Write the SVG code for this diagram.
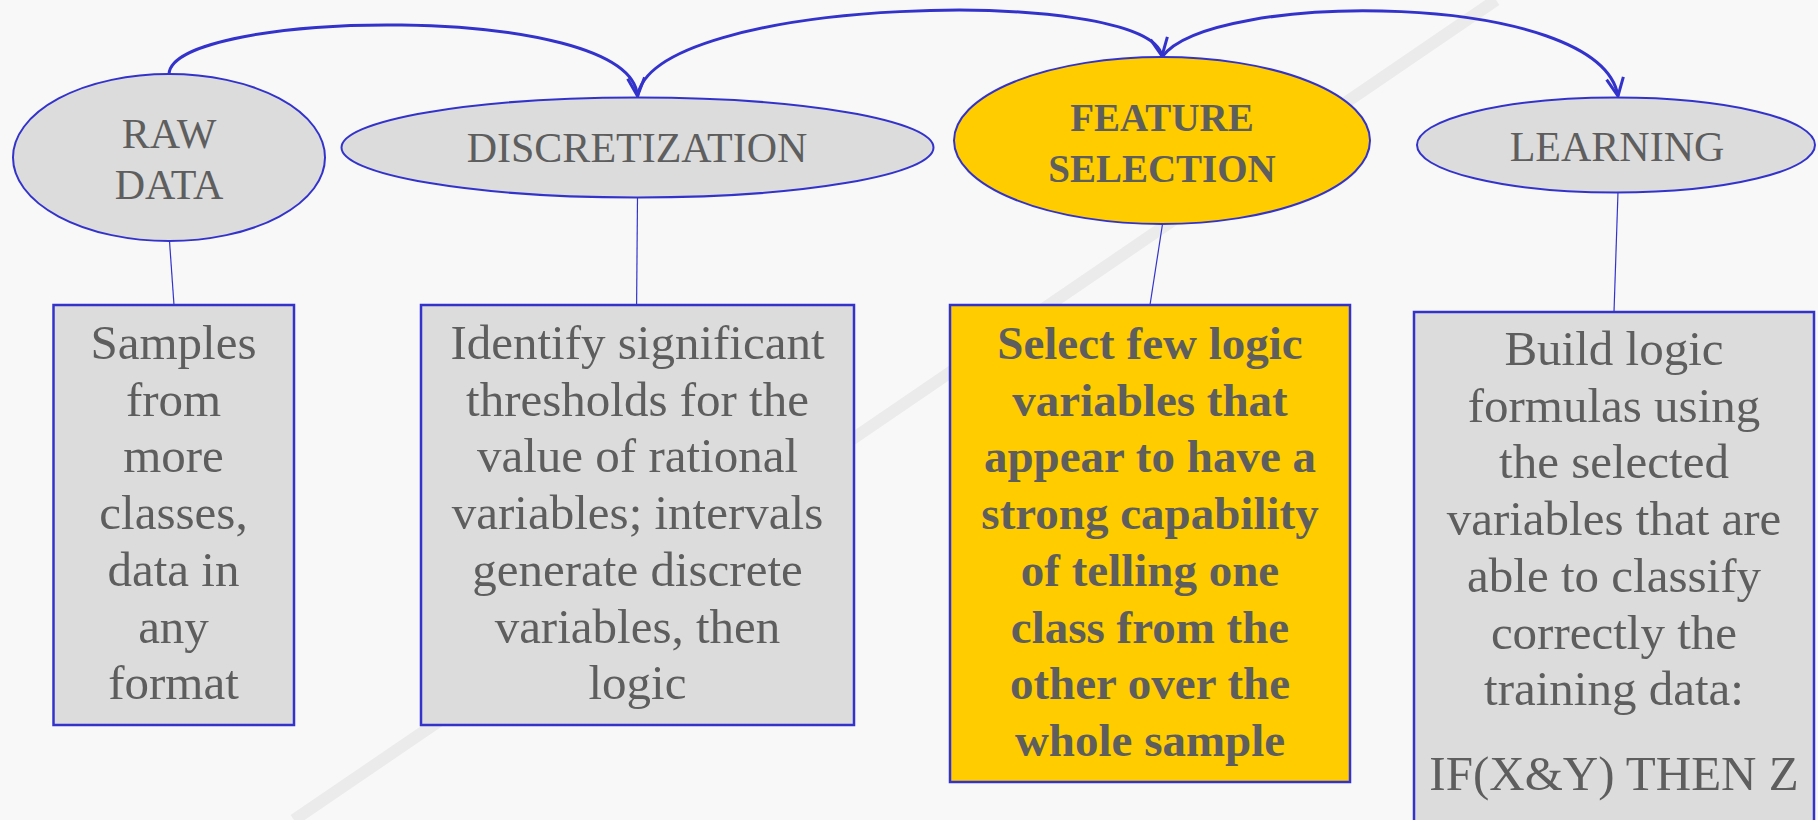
<svg xmlns="http://www.w3.org/2000/svg" width="1818" height="820" viewBox="0 0 1818 820">
<defs>
<style>
.bg{fill:#f8f8f8}
.deco{stroke:#ebebeb;stroke-width:12;fill:none}
.ell{fill:#dcdcdc;stroke:#3333cc;stroke-width:2}
.ell.hl{fill:#ffcc00}
.box{fill:#dcdcdc;stroke:#3333cc;stroke-width:2.5}
.box.hl{fill:#ffcc00}
.lbl{font-family:"Liberation Serif","Times New Roman",serif;font-size:42px;fill:#5e5e5e;text-anchor:middle}
.lbl.b{font-weight:bold;font-size:39px}
.txt{font-family:"Liberation Serif","Times New Roman",serif;font-size:49px;fill:#5e5e5e;text-anchor:middle}
.txt.b{font-weight:bold;font-size:47px}
.flow{fill:none;stroke:#3333cc;stroke-width:3}
.link{fill:none;stroke:#3333cc;stroke-width:1.2}
</style>
<marker id="arr" markerUnits="userSpaceOnUse" markerWidth="24" markerHeight="24" viewBox="0 0 24 24" refX="22" refY="12" orient="auto">
<path d="M4,3.5 L22,12 L4,20.5" fill="none" stroke="#3333cc" stroke-width="3"/>
</marker>
</defs>
<rect class="bg" x="0" y="0" width="1818" height="820"/>
<line class="deco" x1="294" y1="820" x2="1496" y2="0"/>

<g id="connectors">
<path class="flow" d="M169,74 C172,10 630,0 637.5,96" marker-end="url(#arr)"/>
<path class="flow" d="M637.5,97 C650,-5 1150,-15 1162,56" marker-end="url(#arr)"/>
<path class="flow" d="M1162,57 C1210,-10 1600,-10 1618,96" marker-end="url(#arr)"/>
<line class="link" x1="169.5" y1="241" x2="174" y2="305"/>
<line class="link" x1="637.5" y1="197" x2="636.6" y2="305"/>
<line class="link" x1="1162.5" y1="224" x2="1150" y2="305"/>
<line class="link" x1="1618" y1="192" x2="1614" y2="312"/>
</g>

<g id="raw-data">
<ellipse class="ell" cx="169" cy="157.5" rx="156" ry="83.5"/>
<text class="lbl" x="169" y="148">RAW</text>
<text class="lbl" x="169" y="199">DATA</text>
</g>

<g id="discretization">
<ellipse class="ell" cx="637.5" cy="147.5" rx="296" ry="50"/>
<text class="lbl" x="637" y="162">DISCRETIZATION</text>
</g>

<g id="feature-selection">
<ellipse class="ell hl" cx="1162" cy="140.5" rx="208" ry="83.5"/>
<text class="lbl b" x="1162" y="131">FEATURE</text>
<text class="lbl b" x="1162" y="182">SELECTION</text>
</g>

<g id="learning">
<ellipse class="ell" cx="1616" cy="145" rx="199" ry="47.5"/>
<text class="lbl" x="1617" y="161">LEARNING</text>
</g>

<g id="raw-data-desc">
<rect class="box" x="53.5" y="305" width="240.5" height="420"/>
<text class="txt" x="173.5" y="359">Samples</text>
<text class="txt" x="173.5" y="415.7">from</text>
<text class="txt" x="173.5" y="472.4">more</text>
<text class="txt" x="173.5" y="529">classes,</text>
<text class="txt" x="173.5" y="585.8">data in</text>
<text class="txt" x="173.5" y="642.5">any</text>
<text class="txt" x="173.5" y="699.2">format</text>
</g>

<g id="discretization-desc">
<rect class="box" x="421" y="305" width="433" height="420"/>
<text class="txt" x="637.5" y="359">Identify significant</text>
<text class="txt" x="637.5" y="415.7">thresholds for the</text>
<text class="txt" x="637.5" y="472.4">value of rational</text>
<text class="txt" x="637.5" y="529">variables; intervals</text>
<text class="txt" x="637.5" y="585.8">generate discrete</text>
<text class="txt" x="637.5" y="642.5">variables, then</text>
<text class="txt" x="637.5" y="699.2">logic</text>
</g>

<g id="feature-selection-desc">
<rect class="box hl" x="950" y="305" width="400" height="477"/>
<text class="txt b" x="1150" y="359">Select few logic</text>
<text class="txt b" x="1150" y="415.7">variables that</text>
<text class="txt b" x="1150" y="472.4">appear to have a</text>
<text class="txt b" x="1150" y="529">strong capability</text>
<text class="txt b" x="1150" y="585.8">of telling one</text>
<text class="txt b" x="1150" y="642.5">class from the</text>
<text class="txt b" x="1150" y="699.2">other over the</text>
<text class="txt b" x="1150" y="755.9">whole sample</text>
</g>

<g id="learning-desc">
<rect class="box" x="1414" y="312" width="400" height="520"/>
<text class="txt" x="1614" y="365">Build logic</text>
<text class="txt" x="1614" y="421.7">formulas using</text>
<text class="txt" x="1614" y="478.4">the selected</text>
<text class="txt" x="1614" y="535">variables that are</text>
<text class="txt" x="1614" y="591.8">able to classify</text>
<text class="txt" x="1614" y="648.5">correctly the</text>
<text class="txt" x="1614" y="705.2">training data:</text>
<text class="txt" x="1614" y="790">IF(X&amp;Y) THEN Z</text>
</g>
</svg>
